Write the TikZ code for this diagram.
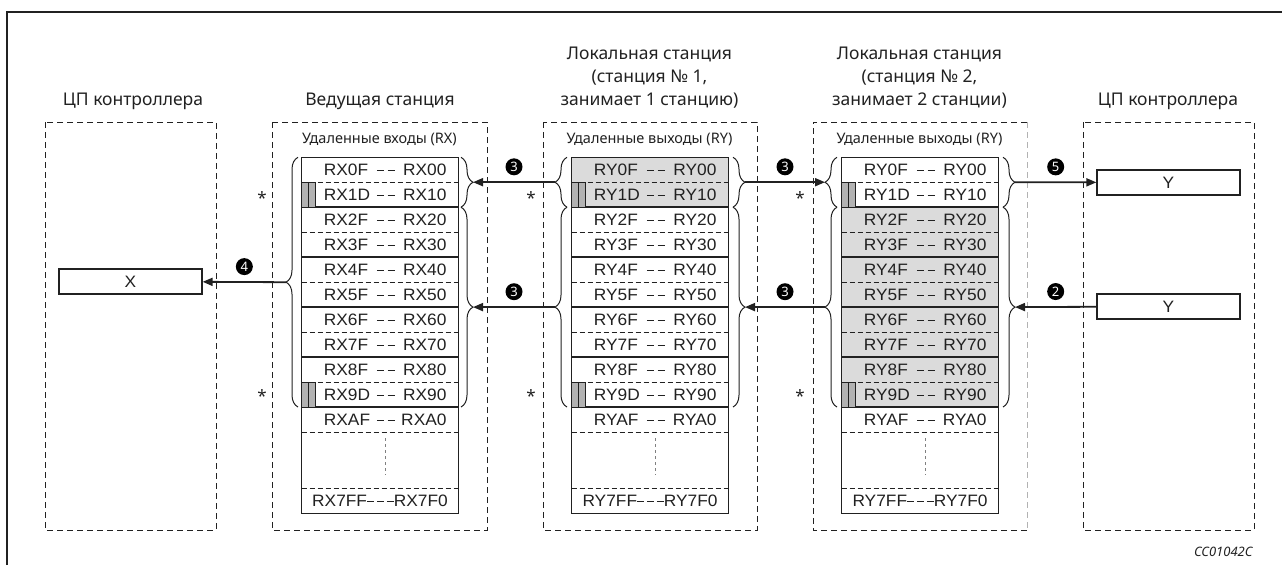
\documentclass[tikz,border=0pt]{standalone}
\usepackage{fontspec}
\setsansfont{Noto Sans}
\newfontfamily\tabfont[FakeStretch=1.05]{Liberation Sans}
\usetikzlibrary{arrows.meta}
\usetikzlibrary{decorations.pathreplacing}
\definecolor{rowgray}{gray}{0.86}
\definecolor{bargray}{gray}{0.70}
\definecolor{ink}{gray}{0.13}
\newcommand*{\rh}{24.97}   % row height
\newcommand*{\ty}{157.3}   % top of the register tables
\newcommand*{\tw}{156.6}   % width of a register table
\newcommand*{\by}{513.3}   % bottom of the register tables
\newcommand*{\dsh}{\rule[0.26em]{0.42em}{0.075em}}

% #1 = left x, #2 = device prefix (RX/RY), #3 = node prefix
\newcommand{\regtable}[3]{%
    \foreach \k in {1,3,5,7,9,11}
        \draw [sepdash] (#1, {\ty+\k*\rh}) -- ++(\tw,0);
    \draw [sepdash] (#1, 488.3) -- ++(\tw,0);
    \foreach \k in {2,4,...,10}
        \draw [sepline] (#1, {\ty+\k*\rh}) -- ++(\tw,0);
    \foreach \k in {1,9}{
        \draw [bar] (#1, {\ty+\k*\rh}) rectangle ++(7,\rh);
        \draw [bar] ({#1+7}, {\ty+\k*\rh}) rectangle ++(7,\rh);
    }
    \foreach \lo/\hi [count=\i from 0] in {0F/00,1D/10,2F/20,3F/30,4F/40,5F/50,6F/60,7F/70,8F/80,9D/90,AF/A0}{
        \node [reg, anchor=west] (#3l\i) at ({#1+22}, {\ty+(\i+0.5)*\rh}) {#2\lo};
        \node [reg] (#3d\i) at ({#1+84}, {\ty+(\i+0.5)*\rh}) {\vphantom{R}\dsh\hspace{4pt}\dsh};
        \node [reg, anchor=east] (#3r\i) at ({#1+145}, {\ty+(\i+0.5)*\rh}) {#2\hi};
    }
    \draw [gray, dashed, line width=0.8pt] ({#1+84}, 438) -- ({#1+84}, 475);
    \node [reg] (#3last) at ({#1+\tw/2}, 500.8) {#27FF\dsh\hspace{3pt}\dsh\hspace{3pt}\dsh#27F0};
    \draw [tabframe] (#1,\ty) rectangle ({#1+\tw}, \by);
}

\begin{document}
\begin{tikzpicture}[x=1pt, y=-1pt, font=\sffamily, text=ink,
    title/.style={font=\sffamily\fontsize{17.5}{23}\selectfont, align=center},
    subtitle/.style={font=\sffamily\fontsize{14.5}{18}\selectfont},
    reg/.style={font=\tabfont\fontsize{16.5}{18}\selectfont, inner sep=0pt},
    area/.style={draw=ink, line width=0.9pt, dash pattern=on 6pt off 4pt},
    sepdash/.style={draw=ink, line width=0.8pt, dash pattern=on 5pt off 3pt},
    sepline/.style={draw=ink, line width=1.8pt},
    tabframe/.style={draw=ink, line width=1.2pt},
    bar/.style={draw=ink, fill=bargray, line width=1pt},
    brc/.style={decorate, decoration={brace, amplitude=12pt}, draw=ink, line width=1pt},
    arr/.style={draw=ink, line width=1.8pt, -{Triangle[length=10pt, width=8pt]}},
    num/.style={circle, fill=black, text=white, inner sep=0pt, minimum size=17pt,
        font=\sffamily\bfseries\fontsize{13}{13}\selectfont},
    devbox/.style={draw=ink, line width=1.3pt, minimum width=143pt, minimum height=25pt,
        inner sep=0pt, font=\tabfont\fontsize{16.5}{18}\selectfont},
    star/.style={font=\sffamily\fontsize{17}{17}\selectfont, inner sep=0pt}]

    \useasboundingbox (0,0) rectangle (1282,565);
    \draw [draw=ink, line width=1.5pt] (7,565) -- (7,12) -- (1282,12);

    % titles
    \node [title] (tcpul) at (133,101) {ЦП контроллера};
    \node [title] (tmst) at (380,101) {Ведущая станция};
    \node [title] (tloc1) at (649.5,78) {Локальная станция\\(станция № 1,\\занимает 1 станцию)};
    \node [title] (tloc2) at (919.5,78) {Локальная станция\\(станция № 2,\\занимает 2 станции)};
    \node [title] (tcpur) at (1168,101) {ЦП контроллера};

    % station areas
    \draw [area] (45,122) rectangle (216,530);
    \draw [area] (272,122) rectangle (487,530);
    \draw [area] (543,122) rectangle (757,530);
    \draw [area] (1027,122) -- (813,122) -- (813,530) -- (1027,530);
    \draw [area, draw=gray!60] (1027,122) -- (1027,530);
    \draw [area] (1083,122) rectangle (1254,530);

    \node [subtitle] (smst) at (379.5,139) {Удаленные входы (RX)};
    \node [subtitle] (sloc1) at (649.5,139) {Удаленные выходы (RY)};
    \node [subtitle] (sloc2) at (919.5,139) {Удаленные выходы (RY)};

    % shaded rows
    \fill [rowgray] (571.7,\ty) rectangle (728.3,{\ty+2*\rh});
    \fill [rowgray] (841.7,{\ty+2*\rh}) rectangle (998.3,{\ty+10*\rh});

    \regtable{301.7}{RX}{m}
    \regtable{571.7}{RY}{a}
    \regtable{841.7}{RY}{b}

    % braces
    \draw [brc] (298,407) -- (298,\ty);
    \coordinate (mL) at (286,282.2);
    \draw [brc] (461,\ty) -- (461,207.2);
    \coordinate (mRt) at (473,182.2);
    \draw [brc] (461,207.2) -- (461,407);
    \coordinate (mRb) at (473,307.1);

    \draw [brc] (567,207.2) -- (567,\ty);
    \coordinate (aLt) at (555,182.2);
    \draw [brc] (567,407) -- (567,207.2);
    \coordinate (aLb) at (555,307.1);
    \draw [brc] (733,\ty) -- (733,207.2);
    \coordinate (aRt) at (745,182.2);
    \draw [brc] (733,207.2) -- (733,407);
    \coordinate (aRb) at (745,307.1);

    \draw [brc] (837,207.2) -- (837,\ty);
    \coordinate (bLt) at (825,182.2);
    \draw [brc] (837,407) -- (837,207.2);
    \coordinate (bLb) at (825,307.1);
    \draw [brc] (1003,\ty) -- (1003,207.2);
    \coordinate (bRt) at (1015,182.2);
    \draw [brc] (1003,207.2) -- (1003,407);
    \coordinate (bRb) at (1015,307.1);

    % CPU devices
    \node [devbox] (xdev) at (130.5,281.5) {X};
    \node [devbox] (ydev1) at (1168.5,182.5) {Y};
    \node [devbox] (ydev2) at (1168.5,306.5) {Y};

    % refresh arrows
    \draw [arr] (mL) -- node [num, above=6pt] (n4) {4} (xdev);
    \draw [arr] (aLt) -- node [num, above=6pt] (n3a) {3} (mRt);
    \draw [arr] (aLb) -- node [num, above=6pt] (n3b) {3} (mRb);
    \draw [arr] (aRt) -- node [num, above=6pt] (n3c) {3} (bLt);
    \draw [arr] (bLb) -- node [num, above=6pt] (n3d) {3} (aRb);
    \draw [arr] (bRt) -- node [num, above=6pt] (n5) {5} (ydev1);
    \draw [arr] (ydev2) -- node [num, above=6pt] (n2) {2} (bRb);

    % occupied station marks
    \node [star] (s1) at (262,198) {*};
    \node [star] (s2) at (262,396) {*};
    \node [star] (s3) at (531,198) {*};
    \node [star] (s4) at (531,396) {*};
    \node [star] (s5) at (800,198) {*};
    \node [star] (s6) at (800,396) {*};

    \node [font=\sffamily\itshape\fontsize{13}{13}\selectfont, anchor=east] (code) at (1256,552) {CC01042C};
\end{tikzpicture}
\end{document}
